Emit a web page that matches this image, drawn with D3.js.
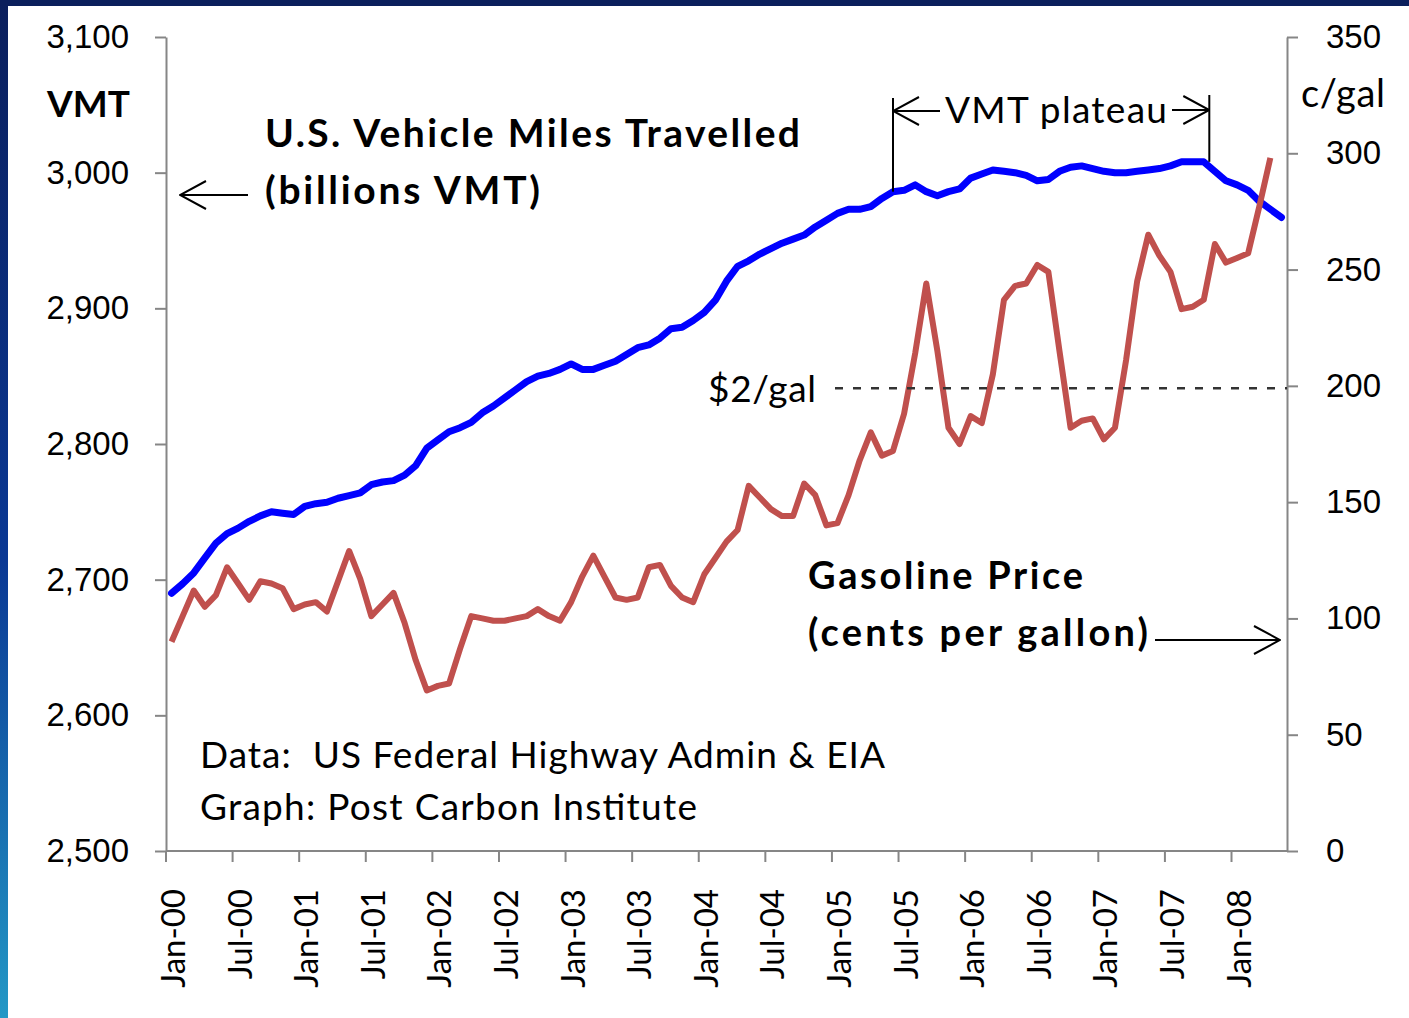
<!DOCTYPE html>
<html>
<head>
<meta charset="utf-8">
<script src="https://cdn.jsdelivr.net/npm/d3@7"></script>
<style>
  body { margin: 0; background: #fff; }
  svg { display: block; font-family: Lato, "Open Sans", sans-serif; }
  .axis path, .axis line { stroke: #868686; stroke-width: 2; }
  .axis text { font-size: 33px; fill: #000; }
</style>
</head>
<body>
<div id="chart"></div>
<script>
// monthly categories Jan-00 .. May-08
const monthNames = ['Jan','Feb','Mar','Apr','May','Jun','Jul','Aug','Sep','Oct','Nov','Dec'];
const months = [];
for (let y = 0; y <= 8; y++) {
  monthNames.forEach((m, k) => {
    if (y < 8 || k < 5) months.push(`${m}-0${y}`);
  });
}

const xTickLabels = ['Jan-00','Jul-00','Jan-01','Jul-01','Jan-02','Jul-02','Jan-03','Jul-03',
  'Jan-04','Jul-04','Jan-05','Jul-05','Jan-06','Jul-06','Jan-07','Jul-07','Jan-08'];
const vmtTicks = [2500, 2600, 2700, 2800, 2900, 3000, 3100];
const priceTicks = [0, 50, 100, 150, 200, 250, 300, 350];

// U.S. vehicle miles travelled, billions (12-month rolling)
const vmt = [
  2690, 2697, 2705, 2716, 2727, 2734, 2738, 2743, 2747, 2750, 2749, 2748,
  2754, 2756, 2757, 2760, 2762, 2764, 2770, 2772, 2773, 2777, 2784, 2797,
  2803, 2809, 2812, 2816, 2823, 2828, 2834, 2840, 2846, 2850, 2852, 2855,
  2859, 2855, 2855, 2858, 2861, 2866, 2871, 2873, 2878, 2885, 2886, 2891,
  2897, 2906, 2920, 2931, 2935, 2940, 2944, 2948, 2951, 2954, 2960, 2965,
  2970, 2973, 2973, 2975, 2981, 2986, 2987, 2991, 2986, 2983, 2986, 2988,
  2996, 2999, 3002, 3001, 3000, 2998, 2994, 2995, 3001, 3004, 3005, 3003,
  3001, 3000, 3000, 3001, 3002, 3003, 3005, 3008, 3008, 3008, 3001, 2994,
  2991, 2987, 2979, 2973, 2967
];

// gasoline price, cents per gallon
const gasPrice = [
  90, 101, 112, 105, 110, 122, 115, 108, 116, 115, 113, 104,
  106, 107, 103, 116, 129, 117, 101, 106, 111, 98, 82, 69,
  71, 72, 87, 101, 100, 99, 99, 100, 101, 104, 101, 99,
  107, 118, 127, 118, 109, 108, 109, 122, 123, 114, 109, 107,
  119, 126, 133, 138, 157, 152, 147, 144, 144, 158, 153, 140,
  141, 153, 168, 180, 170, 172, 188, 214, 244, 215, 182, 175,
  187, 184, 205, 237, 243, 244, 252, 249, 215, 182, 185, 186,
  177, 182, 211, 245, 265, 256, 249, 233, 234, 237, 261, 253,
  255, 257, 277, 298
];

class VmtGasChart {
  constructor(_config) {
    this.config = {
      parentElement: _config.parentElement,
      containerWidth: _config.containerWidth || 1409,
      containerHeight: _config.containerHeight || 1018,
      left: 166, right: 1287, top: 37, bottom: 851
    };
    this.initVis();
  }

  initVis() {
    let vis = this;
    const c = vis.config;

    vis.svg = d3.select(c.parentElement).append('svg')
        .attr('width', c.containerWidth)
        .attr('height', c.containerHeight);

    // slide frame: gradient strip on the left, dark band on top
    const defs = vis.svg.append('defs');
    const grad = defs.append('linearGradient')
        .attr('id', 'frameGrad').attr('x1', 0).attr('y1', 0).attr('x2', 0).attr('y2', 1);
    grad.append('stop').attr('offset', '0%').attr('stop-color', '#0b1f5c');
    grad.append('stop').attr('offset', '55%').attr('stop-color', '#0a3894');
    grad.append('stop').attr('offset', '100%').attr('stop-color', '#2398c6');

    defs.append('marker')
        .attr('id', 'openArrow')
        .attr('markerUnits', 'userSpaceOnUse')
        .attr('viewBox', '0 0 28 30')
        .attr('refX', 27).attr('refY', 15)
        .attr('markerWidth', 28).attr('markerHeight', 30)
        .attr('orient', 'auto')
      .append('path')
        .attr('d', 'M1,1 L27,15 L1,29')
        .attr('fill', 'none')
        .attr('stroke', '#000')
        .attr('stroke-width', 2);

    vis.svg.append('rect').attr('x', 0).attr('y', 0)
        .attr('width', c.containerWidth).attr('height', c.containerHeight).attr('fill', '#fff');
    vis.svg.append('rect').attr('x', 0).attr('y', 0)
        .attr('width', 8).attr('height', c.containerHeight).attr('fill', 'url(#frameGrad)');
    vis.svg.append('rect').attr('x', 0).attr('y', 0)
        .attr('width', c.containerWidth).attr('height', 6).attr('fill', '#0b1f5c');

    // scales
    vis.xScale = d3.scaleBand()
        .domain(months)
        .range([c.left, c.right]);

    vis.yScale = d3.scaleLinear()
        .domain([2500, 3100])
        .range([c.bottom, c.top]);

    vis.y2Scale = d3.scaleLinear()
        .domain([0, 350])
        .range([c.bottom, c.top]);

    vis.xMid = d => vis.xScale(d) + vis.xScale.bandwidth() / 2;

    vis.renderVis();
  }

  renderVis() {
    let vis = this;
    const c = vis.config;

    // axes
    vis.svg.append('g')
        .attr('class', 'axis y-axis')
        .attr('transform', `translate(${c.left},0)`)
        .call(d3.axisLeft(vis.yScale)
          .tickValues(vmtTicks)
          .tickSize(11)
          .tickSizeOuter(0)
          .tickPadding(26)
          .tickFormat(d3.format(',')));

    vis.svg.append('g')
        .attr('class', 'axis y2-axis')
        .attr('transform', `translate(${c.right},0)`)
        .call(d3.axisRight(vis.y2Scale)
          .tickValues(priceTicks)
          .tickSize(11)
          .tickSizeOuter(0)
          .tickPadding(28));

    // category x-axis: ticks on month boundaries, labels rotated
    const xAxisG = vis.svg.append('g')
        .attr('class', 'axis x-axis')
        .attr('transform', `translate(0,${c.bottom})`);

    xAxisG.append('line')
        .attr('x1', c.left).attr('x2', c.right);

    const ticks = xAxisG.selectAll('.tick')
        .data(xTickLabels)
        .join('g')
        .attr('class', 'tick')
        .attr('transform', d => `translate(${vis.xScale(d)},0)`);

    ticks.append('line').attr('y2', 11);

    ticks.append('text')
        .attr('transform', 'rotate(-90)')
        .attr('x', -38)
        .attr('y', vis.xScale.bandwidth() / 2 + 2)
        .attr('dy', '0.35em')
        .attr('text-anchor', 'end')
        .text(d => d);

    // lines
    const vmtLine = d3.line()
        .x((d, i) => vis.xMid(months[i]))
        .y(d => vis.yScale(d));

    const gasLine = d3.line()
        .x((d, i) => vis.xMid(months[i]))
        .y(d => vis.y2Scale(d));

    vis.svg.append('path')
        .datum(vmt)
        .attr('fill', 'none')
        .attr('stroke', '#0000ff')
        .attr('stroke-width', 7)
        .attr('stroke-linejoin', 'round')
        .attr('stroke-linecap', 'round')
        .attr('d', vmtLine);

    vis.svg.append('path')
        .datum(gasPrice)
        .attr('fill', 'none')
        .attr('stroke', '#c0504d')
        .attr('stroke-width', 6)
        .attr('stroke-linejoin', 'round')
        .attr('d', gasLine);

    // $2/gal reference line, drawn over the price line
    vis.svg.append('line')
        .attr('x1', 835).attr('x2', c.right)
        .attr('y1', vis.y2Scale(199)).attr('y2', vis.y2Scale(199))
        .attr('stroke', '#333')
        .attr('stroke-width', 2.5)
        .attr('stroke-dasharray', '8,10');

    // plateau bracket
    const pStart = 65, pEnd = 94;
    const xs = vis.xMid(months[pStart]);
    const xe = vis.xScale(months[pEnd]);
    vis.svg.append('line')
        .attr('x1', xs).attr('x2', xs)
        .attr('y1', 98).attr('y2', vis.yScale(vmt[pStart]))
        .attr('stroke', '#000').attr('stroke-width', 2);
    vis.svg.append('line')
        .attr('x1', xe).attr('x2', xe)
        .attr('y1', 95).attr('y2', vis.yScale(vmt[pEnd - 1]))
        .attr('stroke', '#000').attr('stroke-width', 2);
    vis.svg.append('line')
        .attr('x1', 940).attr('x2', xs).attr('y1', 111).attr('y2', 111)
        .attr('stroke', '#000').attr('stroke-width', 2)
        .attr('marker-end', 'url(#openArrow)');
    vis.svg.append('line')
        .attr('x1', 1172).attr('x2', xe).attr('y1', 110).attr('y2', 110)
        .attr('stroke', '#000').attr('stroke-width', 2)
        .attr('marker-end', 'url(#openArrow)');

    // other arrows
    vis.svg.append('line')
        .attr('x1', 248).attr('x2', 180).attr('y1', 195).attr('y2', 195)
        .attr('stroke', '#000').attr('stroke-width', 2)
        .attr('marker-end', 'url(#openArrow)');
    vis.svg.append('line')
        .attr('x1', 1155).attr('x2', 1280).attr('y1', 640).attr('y2', 640)
        .attr('stroke', '#000').attr('stroke-width', 2)
        .attr('marker-end', 'url(#openArrow)');

    // labels (len = width measured on the original)
    const labels = [
      {t: 'VMT', x: 47, y: 117, size: 37, w: 700, len: 83},
      {t: 'c/gal', x: 1301, y: 107, size: 38, w: 400, len: 84},
      {t: 'U.S. Vehicle Miles Travelled', x: 265, y: 147, size: 39, w: 700, len: 535},
      {t: '(billions VMT)', x: 265, y: 204, size: 39, w: 700, len: 275},
      {t: 'VMT plateau', x: 945, y: 123, size: 37, w: 400, len: 222},
      {t: '$2/gal', x: 708, y: 402, size: 37, w: 400, len: 108},
      {t: 'Gasoline Price', x: 808, y: 589, size: 38, w: 700, len: 275},
      {t: '(cents per gallon)', x: 808, y: 646, size: 38, w: 700, len: 340},
      {t: 'Data:  US Federal Highway Admin & EIA', x: 200, y: 768, size: 37, w: 400, len: 685},
      {t: 'Graph: Post Carbon Institute', x: 200, y: 820, size: 37, w: 400, len: 497}
    ];

    vis.svg.selectAll('.label')
        .data(labels)
        .join('text')
        .attr('class', 'label')
        .attr('x', d => d.x)
        .attr('y', d => d.y)
        .attr('font-size', d => d.size)
        .attr('font-weight', d => d.w)
        .attr('fill', '#000')
        .attr('textLength', d => d.len)
        .attr('lengthAdjust', 'spacing')
        .style('white-space', 'pre')
        .text(d => d.t);
  }
}

new VmtGasChart({parentElement: '#chart'});
</script>
</body>
</html>
